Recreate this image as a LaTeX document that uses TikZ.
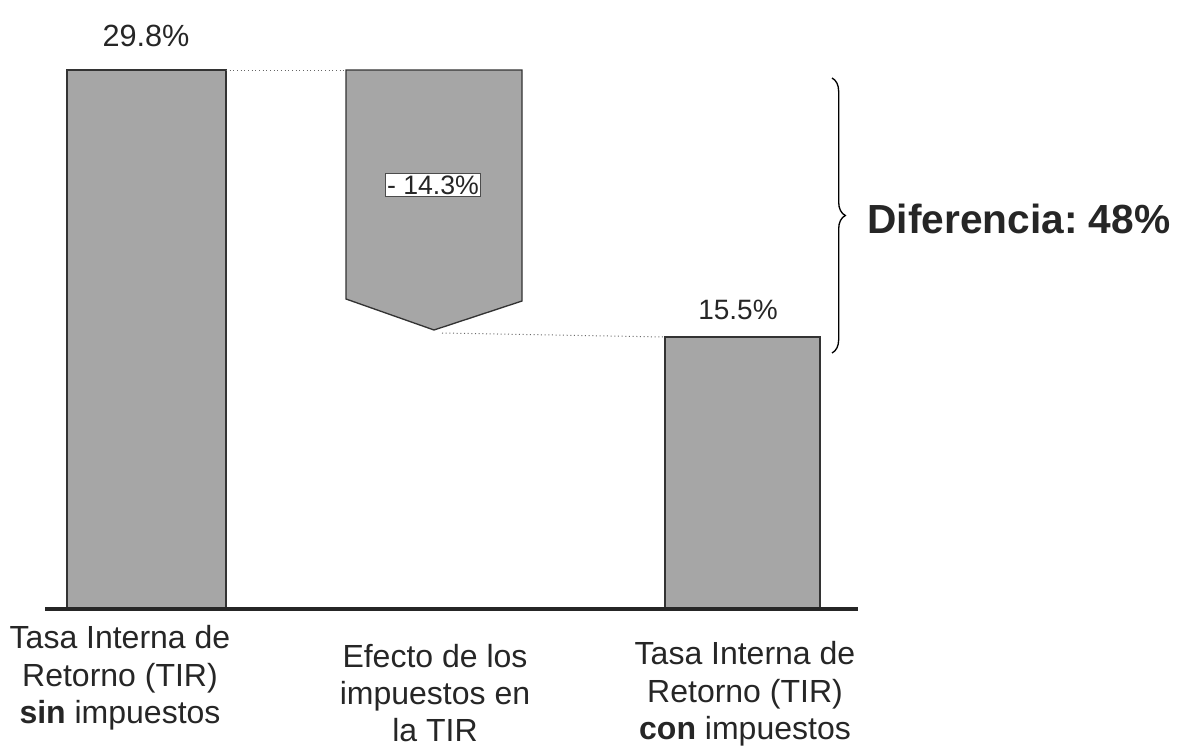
\documentclass[tikz,border=0pt]{standalone}
\usepackage{fontspec}
\setmainfont{Liberation Sans}
\usetikzlibrary{decorations.pathreplacing}

\tikzset{every picture/.style={line width=0.75pt}}
\tikzset{
bar/.style={draw=black!80, fill=black!35, line width=1pt},
guide/.style={draw=black!60, dotted, line width=0.75pt},
value/.style={inner sep=0.75pt, text=black!85, font=\fontsize{21}{25}\selectfont},
caption/.style={inner sep=0.75pt, align=center, text=black!85, font=\fontsize{24}{28}\selectfont}}

\begin{document}
\frenchspacing
\begin{tikzpicture}[x=0.75pt,y=0.75pt,yscale=-1,xscale=1]
\useasboundingbox (0,0) rectangle (1195,750);

%Shape: Rectangle [id:bar_sin]
\draw [bar] (67,70) rectangle (226,609);
\coordinate (sinTop) at (226,70);
%Shape: Arrow [id:efecto]
\draw [bar] (346,70) -- (522,70) -- (522,301) -- (434,330) -- (346,299) -- cycle;
\coordinate (efTop) at (346,70);
\coordinate (efTip) at (442,333);
%Shape: Rectangle [id:bar_con]
\draw [bar] (665,337) rectangle (820,609);
\coordinate (conTop) at (665,337);
%Straight Lines [id:baseline]
\draw [color=black!85, line width=3pt] (45,609) -- (858,609);
%Straight Lines [id:guides]
\draw [guide] (sinTop) -- (efTop);
\draw [guide] (efTip) -- (conTop);
%Shape: Brace [id:diferencia]
\draw [decorate, decoration={brace, amplitude=10pt}, line width=1pt] (832,78) -- (832,353);

% Text Node
\node [value, font=\fontsize{23}{27}\selectfont] (vSin) at (146,36) {29.8\%};
% Text Node
\node [value] (vCon) at (738,310) {15.5\%};
% Text Node
\node [draw=black!70, fill=white, inner sep=1.5pt, text=black!85, font=\fontsize{20}{24}\selectfont] (vEf) at (433,185) {- 14.3\%};
% Text Node
\node [anchor=west, inner sep=0.75pt, text=black!85, font=\fontsize{30.5}{36}\bfseries] (dif) at (866,219) {Diferencia: 48\%};
% Text Node
\node [caption] (cSin) at (120,678) {Tasa Interna de\\Retorno (TIR)\\\textbf{sin} impuestos};
% Text Node
\node [caption] (cEf) at (435,693) {Efecto de los\\impuestos en\\la TIR};
% Text Node
\node [caption] (cCon) at (745,694) {Tasa Interna de\\Retorno (TIR)\\\textbf{con} impuestos};

\end{tikzpicture}
\end{document}
